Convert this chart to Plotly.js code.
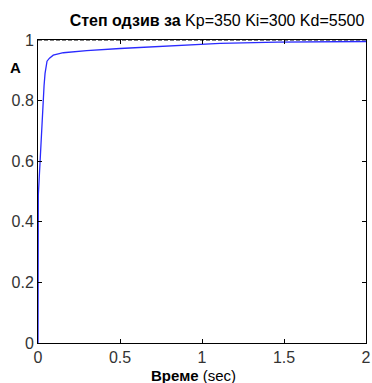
<!DOCTYPE html>
<html><head><meta charset="utf-8">
<script src="https://cdn.plot.ly/plotly-3.0.1.min.js"></script>
<style>body{margin:0;background:#fff}#c{width:372px;height:383px}</style>
</head><body><div id="c"></div>
<script>
const timeSec = [0, 0.0005, 0.002, 0.006, 0.014, 0.022, 0.03, 0.037, 0.043, 0.047, 0.055, 0.07, 0.093, 0.154, 0.297, 0.5, 0.85, 1.11, 1.46, 2.0];
const amplitude = [0, 0.2, 0.49, 0.53, 0.62, 0.72, 0.8, 0.85, 0.89, 0.91, 0.93, 0.94, 0.95, 0.958, 0.965, 0.972, 0.983, 0.989, 0.993, 0.995];
const refX = [0, 2];
const refY = [1, 1];
const xTicks = [0, 0.5, 1, 1.5, 2];
const xTickText = ['0', '0.5', '1', '1.5', '2'];
const yTicks = [0, 0.2, 0.4, 0.6, 0.8, 1];
const yTickText = ['0', '0.2', '0.4', '0.6', '0.8', '1'];

const font = 'Liberation Sans, Arial, sans-serif';
const data = [
  {x: refX, y: refY, mode: 'lines', line: {color: '#000', width: 1, dash: '4px,2px'}, hoverinfo: 'skip'},
  {x: timeSec, y: amplitude, mode: 'lines', line: {color: '#2a2aff', width: 1.3}}
];
const axisCommon = {showgrid: false, zeroline: false, showline: true, linecolor: '#000', linewidth: 1,
  mirror: 'ticks', ticks: 'inside', ticklen: 4, tickcolor: '#000', tickfont: {family: font, size: 16, color: '#333'}, fixedrange: true};
const layout = {
  width: 372, height: 383,
  margin: {l: 38, r: 6, t: 40, b: 40},
  paper_bgcolor: '#fff', plot_bgcolor: '#fff',
  showlegend: false,
  title: {text: '<b>Степ одзив за</b> Kp=350 Ki=300 Kd=5500', font: {family: font, size: 16, color: '#000'},
    xref: 'container', x: 217/372, xanchor: 'center', yref: 'container', y: 1 - 20/383, yanchor: 'middle'},
  xaxis: Object.assign({}, axisCommon, {range: [0, 2], tickvals: xTicks, ticktext: xTickText}),
  yaxis: Object.assign({}, axisCommon, {range: [0, 1], tickvals: yTicks, ticktext: yTickText}),
  annotations: [
    {text: '<b>A</b>', xref: 'paper', yref: 'paper', x: -0.07, y: 0.91, xanchor: 'center', yanchor: 'middle', showarrow: false, font: {family: font, size: 15, color: '#000'}},
    {text: '<b>Време</b> (sec)', xref: 'paper', yref: 'paper', x: (193-38)/328, y: -0.108, xanchor: 'center', yanchor: 'middle', showarrow: false, font: {family: font, size: 15, color: '#000'}}
  ]
};
Plotly.newPlot('c', data, layout, {displayModeBar: false, staticPlot: true});
</script></body></html>
